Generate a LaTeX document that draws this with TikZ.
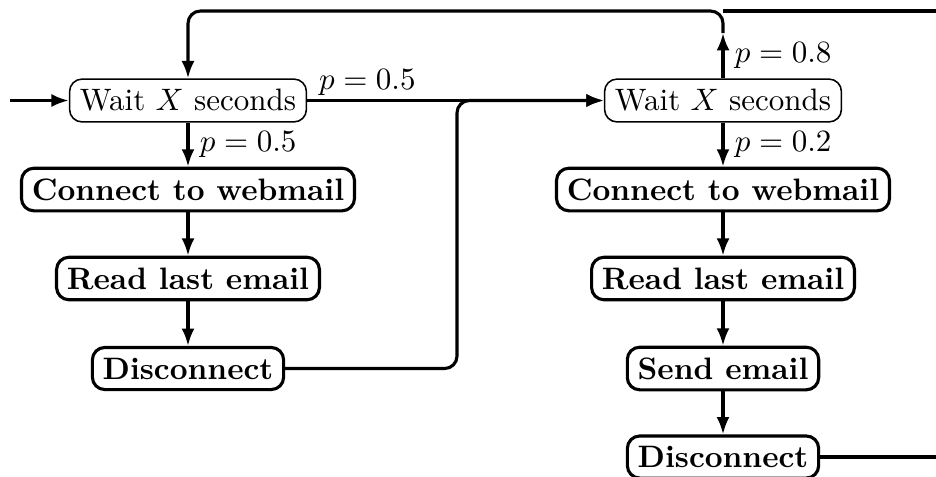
\documentclass[tikz,border=0pt]{standalone}
\usetikzlibrary{arrows.meta}
\begin{document}
\begin{tikzpicture}[x=0.32258pt,y=-0.32258pt,
  lnk/.style={line width=1pt,-{Latex[length=5.6pt,width=4.2pt]}},
  ln/.style={line width=1pt},
  waitbox/.style={draw,rounded corners=4pt,line width=0.5pt,inner sep=3.33pt},
  actbox/.style={draw,rounded corners=4pt,line width=1pt,inner sep=3.33pt,font=\bfseries},
  lbl/.style={inner sep=3.33pt}]
\useasboundingbox (0,0) rectangle (936,476);
% nodes
\node[waitbox] (w1) at (188,100.5) {Wait $X$ seconds};
\node[actbox] (c1) at (188,189.5) {Connect to webmail};
\node[actbox] (r1) at (188,278.5) {Read last email};
\node[actbox] (d1) at (188,368.5) {Disconnect};
\node[waitbox] (w2) at (723,100.5) {Wait $X$ seconds};
\node[actbox] (c2) at (723,189.5) {Connect to webmail};
\node[actbox] (r2) at (723,278.5) {Read last email};
\node[actbox] (s2) at (723,368.5) {Send email};
\node[actbox] (d2) at (723,457) {Disconnect};
% helper coordinates
\coordinate (in) at (10,100.5);
\coordinate (tr) at (936,11);
\coordinate (j1) at (457,0);
\coordinate (up) at (723,33);
\coordinate (er) at (936,0);
% connectors
\draw[lnk] (in) -- (w1);
\draw[lnk] (w1) -- node[lbl,right]{$p=0.5$} (c1);
\draw[lnk] (c1) -- (r1);
\draw[lnk] (r1) -- (d1);
\draw[lnk] (w1) -- node[pos=0,anchor=south west,inner xsep=3.33pt,inner ysep=1pt]{$p=0.5$} (w2);
\draw[lnk,rounded corners=4pt] (d1) -- (d1 -| j1) -- (w2 -| j1) -- (w2);
\draw[lnk] (w2) -- node[lbl,right]{$p=0.8$} (up);
\draw[lnk,rounded corners=4pt] (up) -- (up |- tr) -- (w1 |- tr) -- (w1);
\draw[ln] (tr) -- (up |- tr);
\draw[lnk] (w2) -- node[lbl,right]{$p=0.2$} (c2);
\draw[lnk] (c2) -- (r2);
\draw[lnk] (r2) -- (s2);
\draw[lnk] (s2) -- (d2);
\draw[ln] (d2) -- (d2 -| er);
\end{tikzpicture}
\end{document}
